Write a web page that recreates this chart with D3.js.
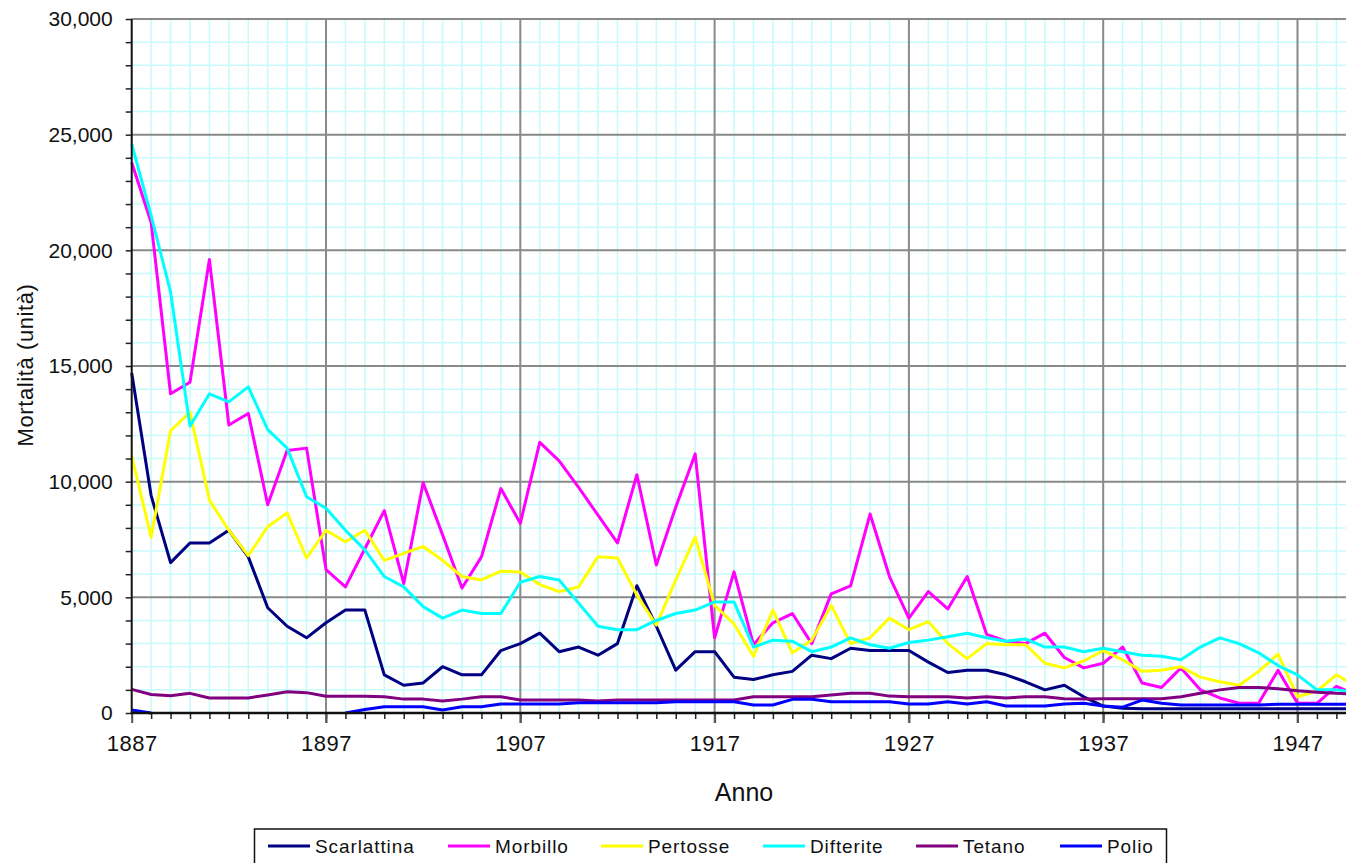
<!DOCTYPE html>
<html>
<head>
<meta charset="utf-8">
<script src="https://cdn.jsdelivr.net/npm/d3@7"></script>
<style>
  html, body { margin: 0; padding: 0; background: #fff; overflow: hidden; }
  svg { display: block; font-family: "Liberation Sans", Arial, sans-serif; }
</style>
</head>
<body>
<svg id="chart" width="1346" height="863"></svg>
<script>
// ---------------- data ----------------
const years = d3.range(1887, 1951);
const seriesNames = ["Scarlattina", "Morbillo", "Pertosse", "Difterite", "Tetano", "Polio"];
const seriesColors = ["#000080", "#ff00ff", "#ffff00", "#00ffff", "#800080", "#0000ff"];

const scarlattina = [14700, 9400, 6500, 7350, 7350, 7900, 6750, 4550, 3750, 3250,
  3900, 4450, 4450, 1650, 1200, 1300, 2000, 1650, 1650, 2700,
  3000, 3450, 2650, 2850, 2500, 3000, 5500, 3750, 1850, 2650,
  2650, 1550, 1450, 1650, 1800, 2500, 2350, 2800, 2700, 2700,
  2700, 2200, 1750, 1850, 1850, 1650, 1350, 1000, 1200, 700,
  300, 200, 180, 180, 180, 180, 180, 180, 180, 180,
  180, 180, 180, 180];
const morbillo = [23800, 21200, 13800, 14300, 19600, 12450, 12950, 9000, 11350, 11450,
  6200, 5450, 7100, 8750, 5600, 9950, 7700, 5400, 6750, 9700,
  8200, 11700, 10900, 9750, 8550, 7350, 10300, 6400, 8900, 11200,
  3250, 6100, 2950, 3900, 4300, 3000, 5150, 5500, 8600, 5900,
  4100, 5250, 4500, 5900, 3400, 3100, 3000, 3450, 2400, 1950,
  2150, 2850, 1300, 1100, 1950, 1000, 650, 420, 420, 1850,
  420, 420, 1150, 800];
const pertosse = [11100, 7600, 12200, 13000, 9200, 7900, 6800, 8050, 8650, 6700,
  7900, 7400, 7900, 6600, 6900, 7200, 6600, 5900, 5750, 6130,
  6100, 5550, 5250, 5450, 6750, 6700, 5100, 3800, 5750, 7600,
  4650, 3850, 2450, 4450, 2600, 3150, 4650, 3000, 3250, 4100,
  3600, 3950, 3000, 2350, 3000, 2950, 2950, 2150, 1950, 2250,
  2700, 2300, 1800, 1850, 2000, 1550, 1350, 1200, 1800, 2550,
  700, 950, 1650, 1150];
const difterite = [24600, 21500, 18200, 12400, 13800, 13450, 14100, 12250, 11450, 9350,
  8850, 7900, 7050, 5900, 5450, 4600, 4100, 4450, 4300, 4300,
  5650, 5900, 5750, 4750, 3750, 3600, 3600, 4000, 4300, 4450,
  4800, 4800, 2850, 3150, 3100, 2650, 2850, 3250, 2950, 2800,
  3050, 3150, 3300, 3450, 3250, 3100, 3200, 2850, 2850, 2650,
  2800, 2650, 2500, 2450, 2300, 2850, 3250, 3000, 2600, 2050,
  1650, 1000, 1000, 900];
const tetano = [1020, 800, 750, 850, 650, 650, 650, 780, 920, 880,
  720, 720, 720, 700, 600, 600, 520, 600, 700, 700,
  560, 560, 560, 560, 520, 560, 560, 560, 560, 560,
  560, 560, 700, 700, 700, 700, 780, 850, 850, 730,
  700, 700, 700, 650, 700, 650, 700, 700, 620, 600,
  620, 620, 620, 620, 700, 850, 1000, 1100, 1100, 1050,
  960, 900, 850, 820];
// null = no value recorded for that year
const polio = [130, 0, null, null, null, null, null, null, null, null,
  null, 0, 150, 270, 270, 270, 130, 270, 270, 390,
  390, 390, 390, 445, 445, 445, 445, 445, 490, 490,
  490, 490, 345, 345, 590, 590, 490, 490, 490, 490,
  390, 390, 490, 390, 490, 300, 300, 300, 390, 420,
  300, 250, 560, 420, 350, 350, 350, 350, 350, 380,
  380, 380, 380, 380];

const allSeries = [scarlattina, morbillo, pertosse, difterite, tetano, polio];

const yTickValues = d3.range(0, 30001, 1000);
const yLabelValues = d3.range(0, 30001, 5000);
const xMajorYears = d3.range(1887, 1951, 10);

// ---------------- layout ----------------
const svg = d3.select("#chart");
const W = 1346, H = 863;
const x = d3.scaleLinear().domain([1887, 1950]).range([131.7, 1355.8]);
const y = d3.scaleLinear().domain([0, 30000]).range([713, 19]);

svg.append("rect").attr("width", W).attr("height", H).attr("fill", "#fff");

const grid = svg.append("g");
// minor gridlines
grid.selectAll("line.vminor").data(years).join("line")
  .attr("x1", d => x(d)).attr("x2", d => x(d))
  .attr("y1", y(30000)).attr("y2", y(0))
  .attr("stroke", "#c6fbfb").attr("stroke-width", 1.5);
grid.selectAll("line.hminor").data(yTickValues).join("line")
  .attr("x1", x(1887)).attr("x2", x(1950))
  .attr("y1", d => y(d)).attr("y2", d => y(d))
  .attr("stroke", "#c6fbfb").attr("stroke-width", 1.5);
// major gridlines
svg.append("g").selectAll("line").data(xMajorYears.slice(1)).join("line")
  .attr("x1", d => x(d)).attr("x2", d => x(d))
  .attr("y1", y(30000)).attr("y2", y(0) + 10)
  .attr("stroke", "#8a8a8a").attr("stroke-width", 2);
svg.append("g").selectAll("line").data(yLabelValues.slice(1)).join("line")
  .attr("x1", x(1887)).attr("x2", x(1950))
  .attr("y1", d => y(d)).attr("y2", d => y(d))
  .attr("stroke", "#8a8a8a").attr("stroke-width", 2);

// series lines
const line = d3.line()
  .defined(d => d !== null)
  .x((d, i) => x(years[i]))
  .y(d => y(d));
svg.append("g").selectAll("path").data(allSeries).join("path")
  .attr("d", d => line(d))
  .attr("fill", "none")
  .attr("stroke", (d, i) => seriesColors[i])
  .attr("stroke-width", 3)
  .attr("stroke-linejoin", "round");

// axes
const yAxis = d3.axisLeft(y).tickValues(yTickValues).tickSize(6)
  .tickFormat(d => (d % 5000 === 0 ? d3.format(",")(d) : ""));
const gy = svg.append("g").attr("transform", `translate(${x(1887)},0)`).call(yAxis);
gy.select(".domain").remove();
gy.selectAll(".tick line").attr("stroke", "#222").attr("stroke-width", 1.5);
gy.selectAll(".tick text").attr("font-size", 21).attr("fill", "#111")
  .attr("x", -19).attr("font-family", "Liberation Sans, Arial, sans-serif");

const xMinor = d3.axisBottom(x).tickValues(years).tickSize(6).tickFormat("");
const gxm = svg.append("g").attr("transform", `translate(0,${y(0)})`).call(xMinor);
gxm.select(".domain").remove();
gxm.selectAll(".tick line").attr("stroke", "#222").attr("stroke-width", 1.5);

const xMajor = d3.axisBottom(x).tickValues(xMajorYears).tickSize(10).tickFormat(d3.format("d"));
const gx = svg.append("g").attr("transform", `translate(0,${y(0)})`).call(xMajor);
gx.select(".domain").remove();
gx.selectAll(".tick line").attr("stroke", "#555").attr("stroke-width", 2);
gx.selectAll(".tick text").attr("font-size", 22).attr("fill", "#111")
  .attr("y", 22).attr("letter-spacing", 0.5)
  .attr("font-family", "Liberation Sans, Arial, sans-serif");

// axis lines
svg.append("line").attr("x1", x(1887)).attr("x2", x(1887))
  .attr("y1", y(30000)).attr("y2", y(0) + 1)
  .attr("stroke", "#111").attr("stroke-width", 2);
svg.append("line").attr("x1", x(1887) - 1).attr("x2", x(1950))
  .attr("y1", y(0)).attr("y2", y(0))
  .attr("stroke", "#111").attr("stroke-width", 2.5);

// axis titles
svg.append("text").attr("x", 744).attr("y", 801)
  .attr("text-anchor", "middle").attr("font-size", 25).attr("fill", "#111")
  .text("Anno");
svg.append("text")
  .attr("transform", "translate(33,365) rotate(-90)")
  .attr("text-anchor", "middle").attr("font-size", 22).attr("fill", "#111")
  .attr("letter-spacing", 0.6)
  .text("Mortalità (unità)");

// legend
const legend = svg.append("g");
legend.append("rect").attr("x", 254.5).attr("y", 829).attr("width", 912).attr("height", 50)
  .attr("fill", "#fff").attr("stroke", "#111").attr("stroke-width", 1.5);
const legendX = [268, 448, 601, 763, 916, 1060];
seriesNames.forEach((name, i) => {
  const g = legend.append("g").attr("transform", `translate(${legendX[i]},846)`);
  g.append("line").attr("x1", 0).attr("x2", 42).attr("y1", 0).attr("y2", 0)
    .attr("stroke", seriesColors[i]).attr("stroke-width", 3);
  g.append("text").attr("x", 47).attr("y", 7).attr("font-size", 19)
    .attr("letter-spacing", 0.9).attr("fill", "#111").text(name);
});
</script>
</body>
</html>
